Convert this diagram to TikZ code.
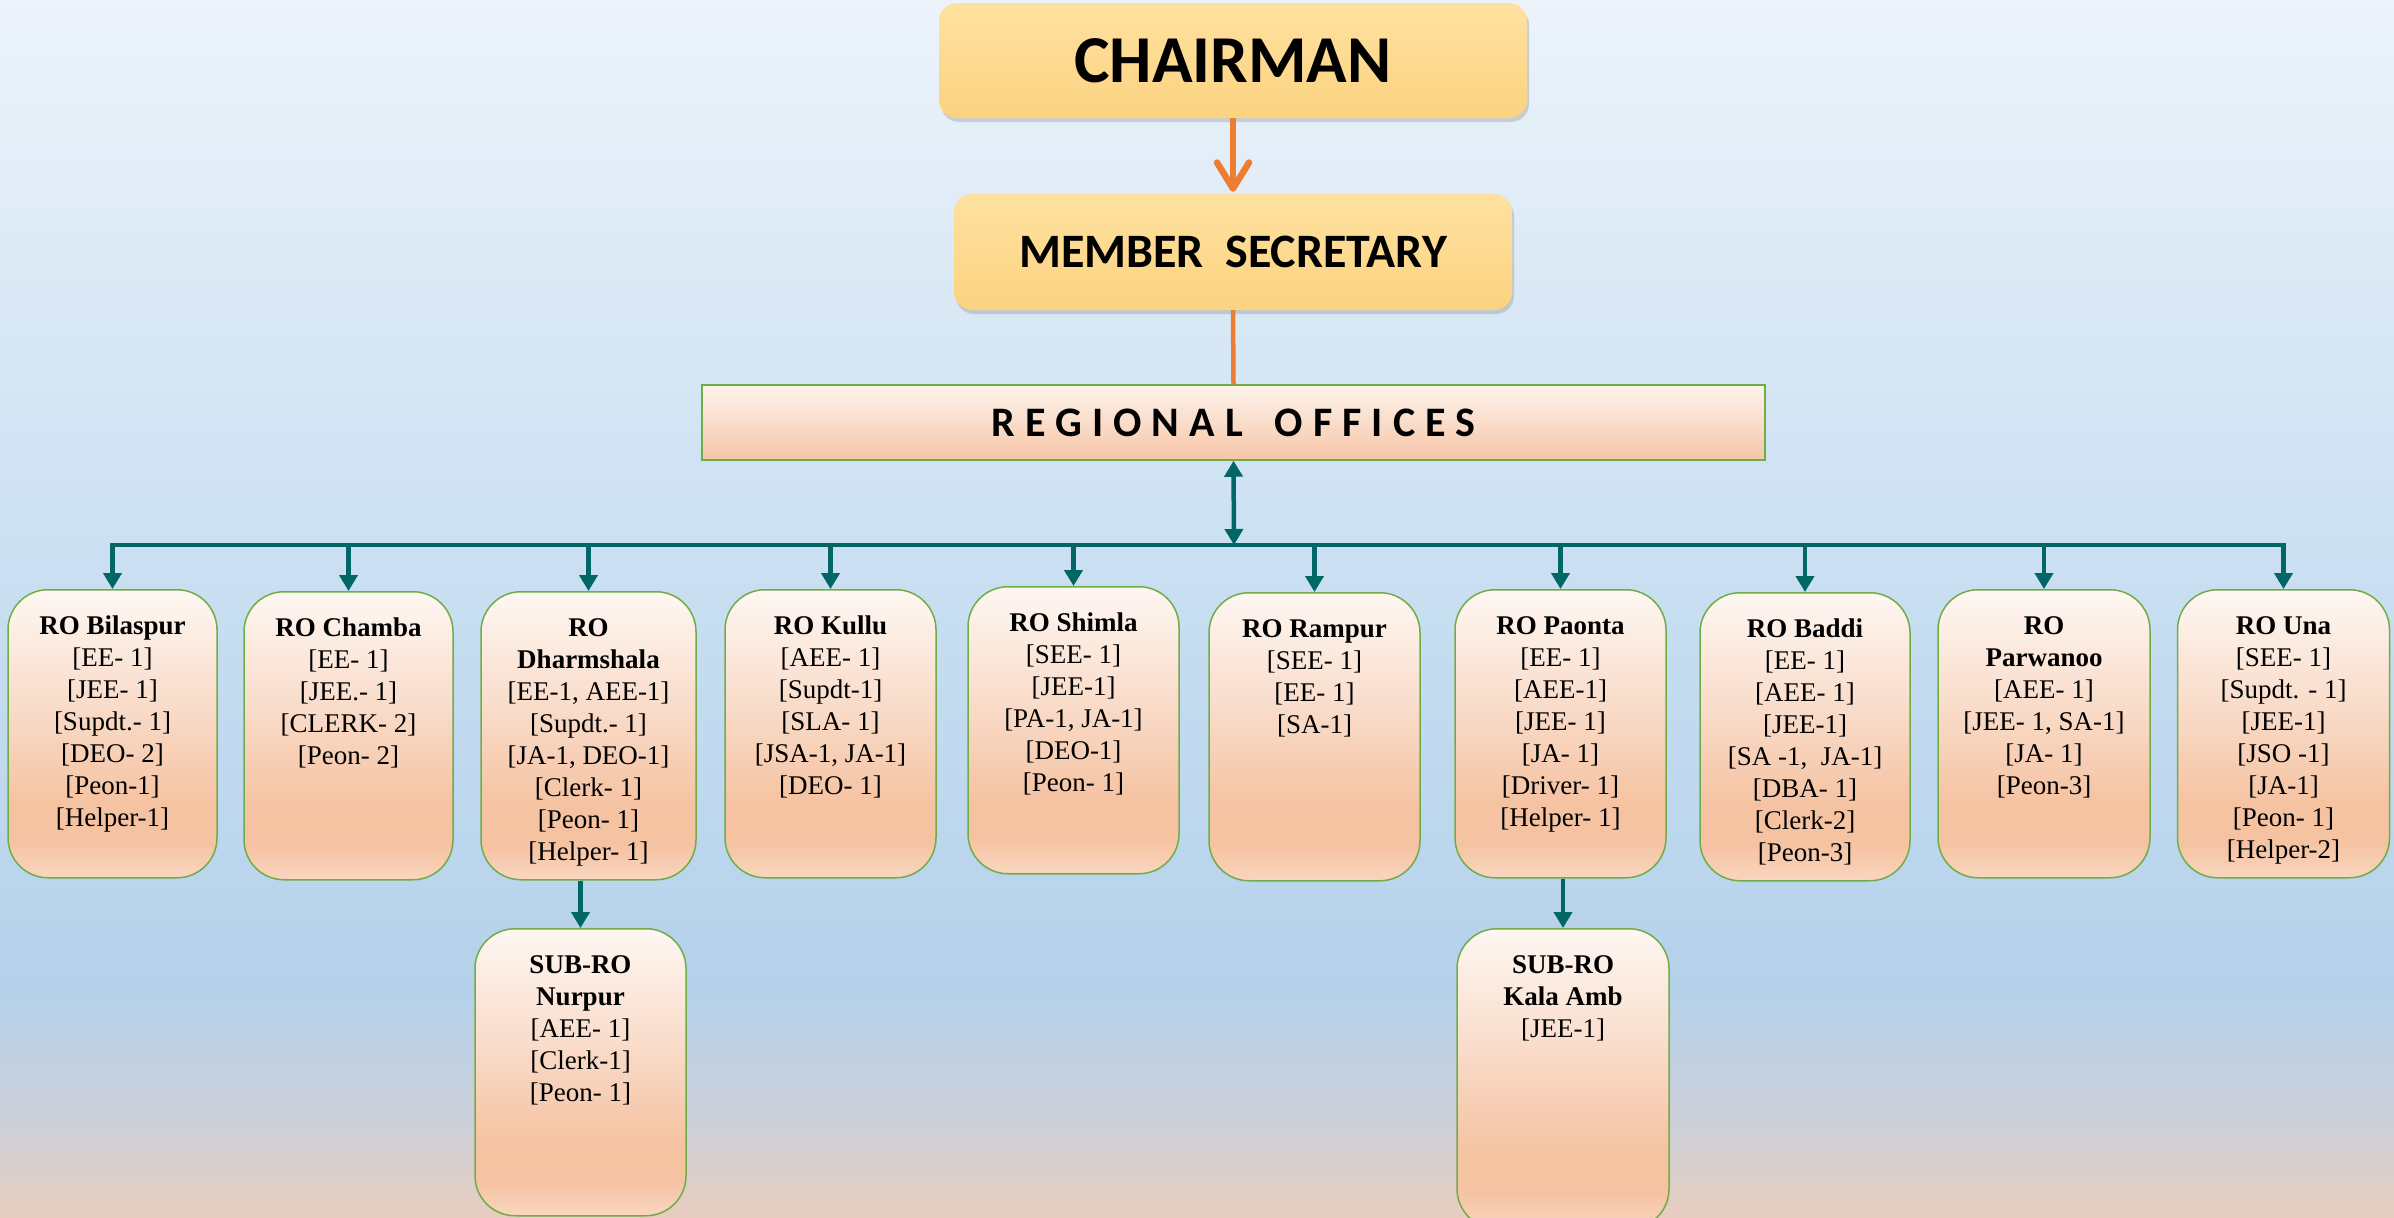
\documentclass[tikz,border=0pt]{standalone}
\usepackage{fontspec}
\setmainfont{Liberation Serif}
\newfontfamily\hdfont{Carlito}
\usetikzlibrary{arrows.meta,shadows}

\definecolor{bgA}{RGB}{232,205,190}
\definecolor{bgB}{RGB}{206,207,215}
\definecolor{bgC}{RGB}{180,209,234}
\definecolor{bgD}{RGB}{200,222,241}
\definecolor{bgE}{RGB}{236,243,250}
\pgfdeclareverticalshading{bgshade}{100bp}{color(0bp)=(bgA); color(25bp)=(bgA); color(28.6bp)=(bgB); color(34.3bp)=(bgC); color(50bp)=(bgD); color(75bp)=(bgE); color(100bp)=(bgE)}

\definecolor{pkA}{RGB}{249,214,192}
\definecolor{pkB}{RGB}{245,195,162}
\definecolor{pkC}{RGB}{249,220,202}
\definecolor{pkD}{RGB}{254,247,242}
\pgfdeclareverticalshading{boxshade}{100bp}{color(0bp)=(pkA); color(25bp)=(pkA); color(31bp)=(pkB); color(38bp)=(pkB); color(55bp)=(pkC); color(75bp)=(pkD); color(100bp)=(pkD)}

\definecolor{gdA}{RGB}{252,211,128}
\definecolor{gdB}{RGB}{254,225,160}
\definecolor{rbA}{RGB}{246,198,167}
\definecolor{rbB}{RGB}{253,243,236}
\definecolor{grn}{RGB}{112,173,71}
\definecolor{tl}{RGB}{0,102,102}
\definecolor{org}{RGB}{237,125,49}

\tikzset{
  robox/.style={draw=grn, line width=1.5pt, rounded corners=40pt, shading=boxshade, minimum width=210pt, minimum height=288pt, inner sep=0pt, anchor=north},
  rotext/.style={align=center, font=\fontsize{27}{32}\selectfont, inner sep=0pt, anchor=north},
  topbox/.style={rounded corners=18pt, top color=gdB, bottom color=gdA, inner sep=0pt,
     drop shadow={opacity=0.3, shadow xshift=2pt, shadow yshift=-4pt}},
  rbar/.style={draw=grn, line width=1.5pt, top color=rbB, bottom color=rbA, inner sep=0pt, minimum width=1063pt, minimum height=75pt},
  tline/.style={draw=tl, line width=4.5pt},
  tarrow/.style={tline, -{Triangle[length=16pt,width=18pt]}},
  oline/.style={draw=org, line width=5pt},
}

\begin{document}
\begin{tikzpicture}[x=1pt,y=-1pt]
\useasboundingbox (0,0) rectangle (2394,1218);
\clip (0,0) rectangle (2394,1218);
\shade[shading=bgshade] (0,0) rectangle (2394,1218);

% top hierarchy
\node[topbox, minimum width=588pt, minimum height=115pt, font=\hdfont\bfseries\fontsize{67}{70}\selectfont] (chair) at (1233,60.5) {CHAIRMAN};
\node[topbox, minimum width=558pt, minimum height=116pt, font=\hdfont\bfseries\fontsize{48}{52}\selectfont] (ms) at (1233,252) {MEMBER\ \ SECRETARY};
\node[rbar, font=\hdfont\bfseries\fontsize{42}{46}\selectfont\addfontfeature{LetterSpace=24}] (rob) at (1233.5,422.5) {REGIONAL\hspace{12pt} OFFICES};

\draw[oline, line width=6.5pt, -{Straight Barb[round,length=26pt,width=32pt]}] (chair.south) -- ([yshift=2pt]ms.north);
\draw[oline, line width=4.5pt] (ms.south) -- (rob.north);

\coordinate (bus) at (1234,545);
\coordinate (busL) at (112.5,545);
\coordinate (busR) at (2283.5,545);
\draw[tline, {Triangle[length=16pt,width=18pt]}-{Triangle[length=16pt,width=18pt]}] (rob.south) -- (bus);
\draw[tline, line cap=rect] (busL) -- (busR);

% regional office boxes
\node[robox, minimum width=209pt] (b1) at (112.5,589) {};
\node[robox, minimum width=209pt] (b2) at (348.5,591) {};
\node[robox, minimum width=215pt] (b3) at (588.5,591) {};
\node[robox, minimum width=211pt] (b4) at (830.5,589) {};
\node[robox, minimum width=211pt, minimum height=287pt] (b5) at (1073.5,586) {};
\node[robox, minimum width=211pt] (b6) at (1314.5,592) {};
\node[robox, minimum width=211pt] (b7) at (1560.5,589) {};
\node[robox, minimum width=210pt] (b8) at (1805,592) {};
\node[robox, minimum width=212pt] (b9) at (2044,589) {};
\node[robox, minimum width=212pt] (b10) at (2283.5,589) {};
\node[robox, minimum width=211pt, minimum height=287pt] (s1) at (580.5,928) {};
\node[robox, minimum width=212pt, minimum height=300pt] (s2) at (1563,928) {};

\node[rotext] (t1) at ([yshift=-27pt]b1.north) {\textbf{RO Bilaspur}\\{}[EE- 1]\\{}[JEE- 1]\\{}[Supdt.- 1]\\{}[DEO- 2]\\{}[Peon-1]\\{}[Helper-1]};
\node[rotext] (t2) at ([yshift=-27pt]b2.north) {\textbf{RO Chamba}\\{}[EE- 1]\\{}[JEE.- 1]\\{}[CLERK- 2]\\{}[Peon- 2]};
\node[rotext] (t3) at ([yshift=-27pt]b3.north) {\textbf{RO}\\\textbf{Dharmshala}\\{}[EE-1, AEE-1]\\{}[Supdt.- 1]\\{}[JA-1, DEO-1]\\{}[Clerk- 1]\\{}[Peon- 1]\\{}[Helper- 1]};
\node[rotext] (t4) at ([yshift=-27pt]b4.north) {\textbf{RO Kullu}\\{}[AEE- 1]\\{}[Supdt-1]\\{}[SLA- 1]\\{}[JSA-1, JA-1]\\{}[DEO- 1]};
\node[rotext] (t5) at ([yshift=-27pt]b5.north) {\textbf{RO Shimla}\\{}[SEE- 1]\\{}[JEE-1]\\{}[PA-1, JA-1]\\{}[DEO-1]\\{}[Peon- 1]};
\node[rotext] (t6) at ([yshift=-27pt]b6.north) {\textbf{RO Rampur}\\{}[SEE- 1]\\{}[EE- 1]\\{}[SA-1]};
\node[rotext] (t7) at ([yshift=-27pt]b7.north) {\textbf{RO Paonta}\\{}[EE- 1]\\{}[AEE-1]\\{}[JEE- 1]\\{}[JA- 1]\\{}[Driver- 1]\\{}[Helper- 1]};
\node[rotext] (t8) at ([yshift=-27pt]b8.north) {\textbf{RO Baddi}\\{}[EE- 1]\\{}[AEE- 1]\\{}[JEE-1]\\{}[SA -1,\ \ JA-1]\\{}[DBA- 1]\\{}[Clerk-2]\\{}[Peon-3]};
\node[rotext] (t9) at ([yshift=-27pt]b9.north) {\textbf{RO}\\\textbf{Parwanoo}\\{}[AEE- 1]\\{}[JEE- 1, SA-1]\\{}[JA- 1]\\{}[Peon-3]};
\node[rotext] (t10) at ([yshift=-27pt]b10.north) {\textbf{RO Una}\\{}[SEE- 1]\\{}[Supdt. - 1]\\{}[JEE-1]\\{}[JSO -1]\\{}[JA-1]\\{}[Peon- 1]\\{}[Helper-2]};
\node[rotext] (u1) at ([yshift=-27pt]s1.north) {\textbf{SUB-RO}\\\textbf{Nurpur}\\{}[AEE- 1]\\{}[Clerk-1]\\{}[Peon- 1]};
\node[rotext] (u2) at ([yshift=-27pt]s2.north) {\textbf{SUB-RO}\\\textbf{Kala Amb}\\{}[JEE-1]};

% drops
\foreach \b in {b1,b2,b3,b4,b5,b6,b7,b8,b9,b10}
  \draw[tarrow] (\b.north |- bus) -- (\b.north);
\draw[tarrow] (b3.south -| s1.north) -- (s1.north);
\draw[tarrow] (b7.south -| s2.north) -- (s2.north);
\end{tikzpicture}
\end{document}
